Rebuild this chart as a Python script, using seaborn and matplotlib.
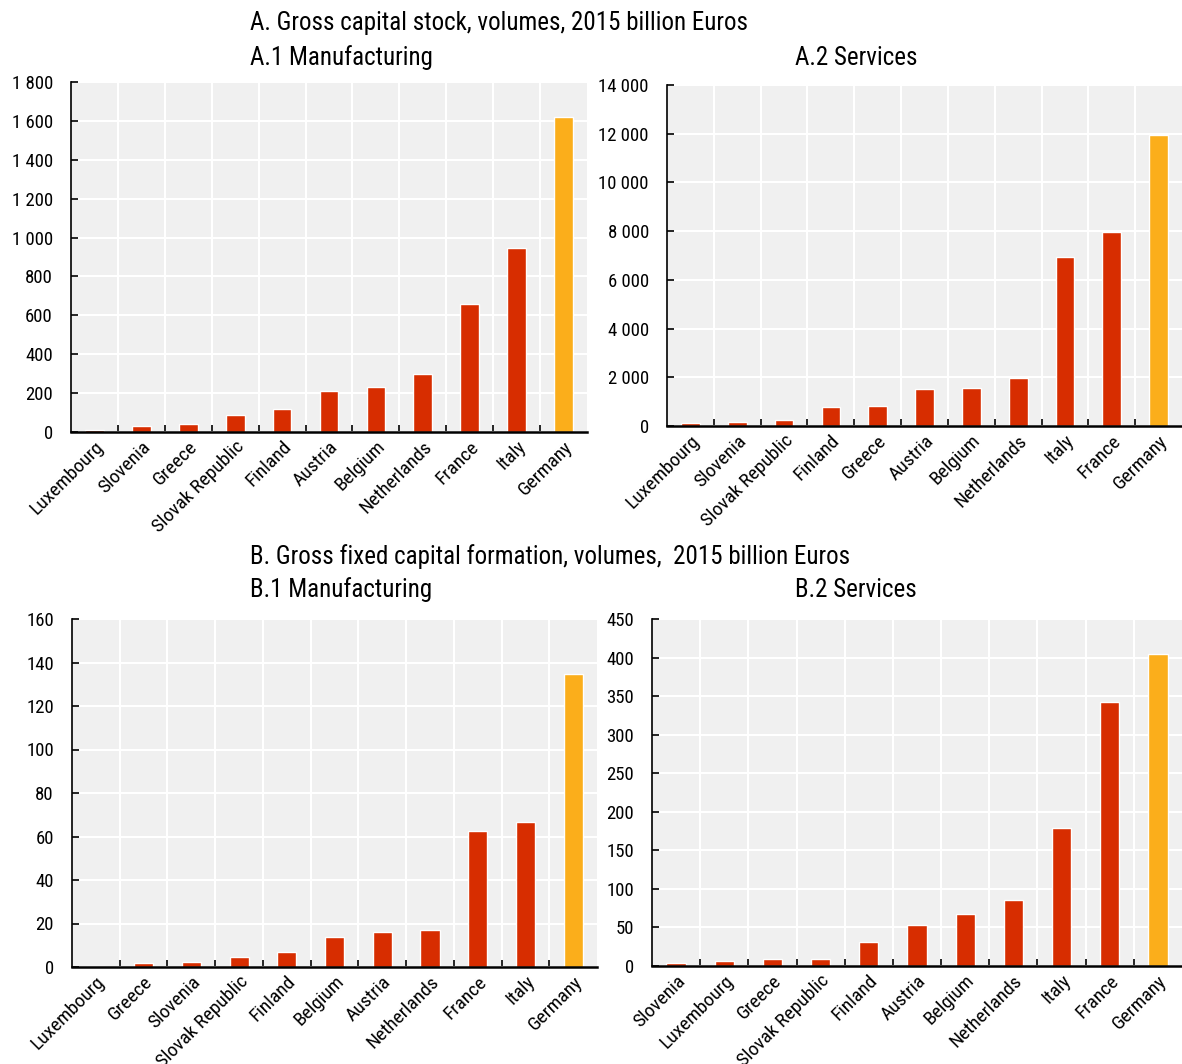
import matplotlib
matplotlib.use("Agg")
import matplotlib.pyplot as plt
from matplotlib.ticker import FuncFormatter, FixedLocator
import seaborn as sns
import pandas as pd

# A.1 Gross capital stock, manufacturing
a1_countries = ["Luxembourg", "Slovenia", "Greece", "Slovak Republic", "Finland", "Austria",
                "Belgium", "Netherlands", "France", "Italy", "Germany"]
a1_values = [12, 30, 40, 85, 120, 210, 230, 300, 660, 945, 1620]

# A.2 Gross capital stock, services
a2_countries = ["Luxembourg", "Slovenia", "Slovak Republic", "Finland", "Greece", "Austria",
                "Belgium", "Netherlands", "Italy", "France", "Germany"]
a2_values = [110, 150, 240, 800, 830, 1500, 1570, 1980, 6940, 7950, 11950]

# B.1 Gross fixed capital formation, manufacturing
b1_countries = ["Luxembourg", "Greece", "Slovenia", "Slovak Republic", "Finland", "Belgium",
                "Austria", "Netherlands", "France", "Italy", "Germany"]
b1_values = [0.5, 1.7, 2.2, 4.6, 6.8, 13.6, 16.2, 17.2, 62.7, 66.7, 134.5]

# B.2 Gross fixed capital formation, services
b2_countries = ["Slovenia", "Luxembourg", "Greece", "Slovak Republic", "Finland", "Austria",
                "Belgium", "Netherlands", "Italy", "France", "Germany"]
b2_values = [3.5, 6, 8.5, 9, 31, 53, 67.5, 86, 179, 342, 404]

highlight = "Germany"
RED = "#D72D00"
ORANGE = "#FBAE1B"
BG = "#F0F0F0"

sns.set_theme(style="white")
plt.rcParams["font.family"] = ["Roboto Condensed", "Liberation Sans", "DejaVu Sans"]


def space_fmt(v, pos):
    return f"{int(round(v)):,}".replace(",", " ")


def draw_panel(ax, countries, values, ymax, step):
    df = pd.DataFrame({"country": countries, "value": values})
    df["group"] = ["hl" if c == highlight else "other" for c in countries]
    sns.barplot(data=df, x="country", y="value", hue="group", palette={"hl": ORANGE, "other": RED},
                dodge=False, width=0.4, legend=False, ax=ax, saturation=1)
    ax.set_facecolor(BG)
    ax.set_xlim(-0.5, len(countries) - 0.5)
    ax.set_ylim(0, ymax)
    ax.yaxis.set_major_locator(FixedLocator([i * step for i in range(int(ymax / step) + 1)]))
    ax.yaxis.set_major_formatter(FuncFormatter(space_fmt))
    ax.set_xlabel("")
    ax.set_ylabel("")
    # category boundaries for vertical grid lines and ticks
    ax.set_xticks([i + 0.5 for i in range(len(countries) - 1)], minor=True)
    ax.grid(True, axis="y", which="major", color="white", lw=1.5)
    ax.grid(True, axis="x", which="minor", color="white", lw=1.5)
    ax.set_axisbelow(True)
    for s in ["top", "right"]:
        ax.spines[s].set_visible(False)
    ax.spines["left"].set_color("black")
    ax.spines["bottom"].set_color("black")
    ax.spines["left"].set_linewidth(1.2)
    ax.spines["bottom"].set_linewidth(1.8)
    ax.tick_params(axis="x", which="major", length=0, labelsize=14, pad=4)
    ax.tick_params(axis="x", which="minor", direction="in", length=5, width=1.2, color="black", bottom=True)
    ax.tick_params(axis="y", direction="in", length=5, width=1.2, color="black", left=True, labelsize=13.5, pad=13)
    for lab in ax.get_xticklabels():
        lab.set_rotation(45)
        lab.set_ha("right")
        lab.set_rotation_mode("anchor")
        lab.set_color("black")
    for lab in ax.get_yticklabels():
        lab.set_color("black")


fig = plt.figure(figsize=(11.82, 10.64), dpi=100)

ax_a1 = fig.add_axes([71 / 1182, 1 - 432 / 1064, 516 / 1182, 350 / 1064])
ax_a2 = fig.add_axes([667 / 1182, 1 - 426 / 1064, 515 / 1182, 341 / 1064])
ax_b1 = fig.add_axes([72 / 1182, 1 - 967 / 1064, 525 / 1182, 348 / 1064])
ax_b2 = fig.add_axes([652 / 1182, 1 - 966 / 1064, 530 / 1182, 347 / 1064])

draw_panel(ax_a1, a1_countries, a1_values, 1800, 200)
draw_panel(ax_a2, a2_countries, a2_values, 14000, 2000)
draw_panel(ax_b1, b1_countries, b1_values, 160, 20)
draw_panel(ax_b2, b2_countries, b2_values, 450, 50)

title_kw = dict(fontsize=18, color="black", ha="left", va="center")
fig.text(250 / 1182, 1 - 23 / 1064, "A. Gross capital stock, volumes, 2015 billion Euros", **title_kw)
fig.text(250 / 1182, 1 - 58 / 1064, "A.1 Manufacturing", **title_kw)
fig.text(795 / 1182, 1 - 58 / 1064, "A.2 Services", **title_kw)
fig.text(250 / 1182, 1 - 557 / 1064, "B. Gross fixed capital formation, volumes,  2015 billion Euros", **title_kw)
fig.text(250 / 1182, 1 - 590 / 1064, "B.1 Manufacturing", **title_kw)
fig.text(795 / 1182, 1 - 590 / 1064, "B.2 Services", **title_kw)

fig.savefig("out.png", dpi=100, facecolor="white")
